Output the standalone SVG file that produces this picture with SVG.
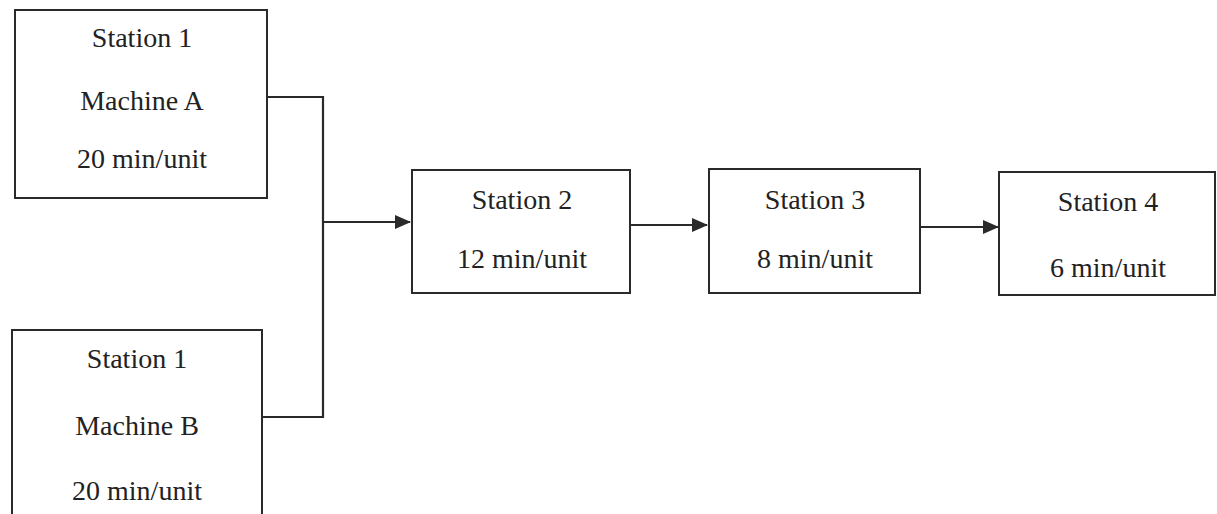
<svg xmlns="http://www.w3.org/2000/svg" width="1217" height="514" viewBox="0 0 1217 514">
<style>
.box{fill:#fff;stroke:#2a2a2a;stroke-width:2}
.t{font-family:'Liberation Serif',serif;font-size:28px;fill:#222;text-anchor:middle}
.c{fill:none;stroke:#2a2a2a;stroke-width:2.2}
</style>
<defs>
<marker id="ah" markerWidth="16" markerHeight="14" refX="15" refY="7" orient="auto" markerUnits="userSpaceOnUse">
<path d="M0,0 L16,7 L0,14 Z" fill="#2a2a2a"/>
</marker>
</defs>
<rect width="1217" height="514" fill="#fff"/>
<g id="connectors">
<path class="c" d="M267,97 H323 V417 H262"/>
<path class="c" d="M323,222 H410" marker-end="url(#ah)"/>
<path class="c" d="M630,225 H707" marker-end="url(#ah)"/>
<path class="c" d="M920,227 H998" marker-end="url(#ah)"/>
</g>
<g id="station1A">
<rect class="box" x="15" y="10" width="252" height="188"/>
<text class="t" x="142" y="47">Station 1</text>
<text class="t" x="142" y="110">Machine A</text>
<text class="t" x="142" y="168">20 min/unit</text>
</g>
<g id="station1B">
<rect class="box" x="12" y="330" width="250" height="200"/>
<text class="t" x="137" y="368">Station 1</text>
<text class="t" x="137" y="435">Machine B</text>
<text class="t" x="137" y="500">20 min/unit</text>
</g>
<g id="station2">
<rect class="box" x="412" y="170" width="218" height="123"/>
<text class="t" x="522" y="209">Station 2</text>
<text class="t" x="522" y="268">12 min/unit</text>
</g>
<g id="station3">
<rect class="box" x="709" y="169" width="211" height="124"/>
<text class="t" x="815" y="209">Station 3</text>
<text class="t" x="815" y="268">8 min/unit</text>
</g>
<g id="station4">
<rect class="box" x="999" y="172" width="216" height="123"/>
<text class="t" x="1108" y="211">Station 4</text>
<text class="t" x="1108" y="277">6 min/unit</text>
</g>
</svg>
